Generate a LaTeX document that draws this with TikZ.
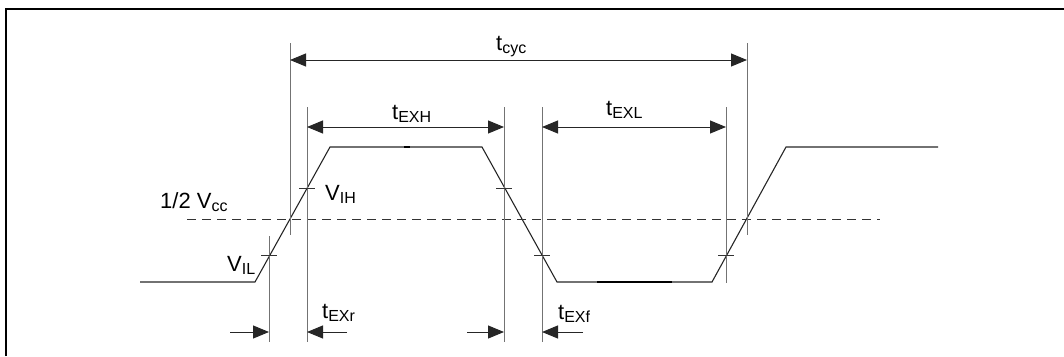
\documentclass[tikz,border=0pt]{standalone}
\usepackage{fontspec}
\setmainfont{Liberation Sans}
\usetikzlibrary{arrows.meta}
\newcommand\lsub[1]{\raisebox{-3.5pt}{\fontsize{16}{17}\selectfont #1}}
\begin{document}
\begin{tikzpicture}[x=1pt,y=-1pt,
  sig/.style={line width=1.1pt, draw=black!85},
  refline/.style={line width=0.9pt, draw=black!55},
  tick/.style={line width=0.9pt, draw=black!80},
  dimarrow/.style={line width=1pt, draw=black!85, {Triangle[length=16pt,width=13pt]}-{Triangle[length=16pt,width=13pt]}},
  onearrow/.style={line width=1pt, draw=black!85, -{Triangle[length=16pt,width=13pt]}},
  lbl/.style={inner sep=0pt, anchor=base west, font=\fontsize{22}{24}\selectfont},
  frame/.style={line width=2.2pt, draw=black}]
\useasboundingbox (0,0) rectangle (1064,356);
% frame (top and left edges)
\coordinate (fa) at (6,356);
\coordinate (fb) at (6,9);
\coordinate (fc) at (1064,9);
\draw[frame] (fa) -- (fb) -- (fc);
% signal
\coordinate (s0) at (140,282);
\coordinate (s1) at (255,282);
\coordinate (s2) at (330,147);
\coordinate (s3) at (482,147);
\coordinate (s4) at (557,282);
\coordinate (s5) at (712,282);
\coordinate (s6) at (786,147);
\coordinate (s7) at (938,147);
\draw[sig] (s0) -- (s1) -- (s2) -- (s3) -- (s4) -- (s5) -- (s6) -- (s7);
\coordinate (h1) at (597,282); \coordinate (h2) at (672,282);
\draw[line width=2.4pt] (h1) -- (h2);
\coordinate (h3) at (404,147); \coordinate (h4) at (410,147);
\draw[line width=2.4pt] (h3) -- (h4);
% dashed half-Vcc line
\coordinate (m0) at (187,219); \coordinate (m1) at (880,219);
\draw[line width=1pt, draw=black!80, dash pattern=on 9pt off 6pt] (m0) -- (m1);
% reference verticals
\coordinate (a1t) at (290,43);  \coordinate (a1b) at (290,235);
\coordinate (a2t) at (747,43);  \coordinate (a2b) at (747,235);
\coordinate (b1t) at (307,107); \coordinate (b1b) at (307,342);
\coordinate (b2t) at (504,107); \coordinate (b2b) at (504,342);
\coordinate (c1t) at (542,107); \coordinate (c1b) at (542,342);
\coordinate (c2t) at (726,107); \coordinate (c2b) at (726,283);
\coordinate (d1t) at (269,236); \coordinate (d1b) at (269,342);
\foreach \p in {a1,a2,b1,b2,c1,c2,d1} \draw[refline] (\p t) -- (\p b);
% ticks
\foreach \x/\y [count=\i] in {307/188,269/255,504/188,542/255,726/255}{
  \coordinate (k\i a) at (\x-8,\y); \coordinate (k\i b) at (\x+8,\y);
  \draw[tick] (k\i a) -- (k\i b);}
% dimension arrows
\coordinate (cyc1) at (290,60);  \coordinate (cyc2) at (747,60);
\draw[dimarrow] (cyc1) -- (cyc2);
\coordinate (exh1) at (307,127); \coordinate (exh2) at (504,127);
\draw[dimarrow] (exh1) -- (exh2);
\coordinate (exl1) at (542,127); \coordinate (exl2) at (726,127);
\draw[dimarrow] (exl1) -- (exl2);
% bottom arrows
\coordinate (r1a) at (230,332); \coordinate (r1b) at (269,332);
\coordinate (r2a) at (347,332); \coordinate (r2b) at (307,332);
\coordinate (f1a) at (467,332); \coordinate (f1b) at (504,332);
\coordinate (f2a) at (583,332); \coordinate (f2b) at (542,332);
\draw[onearrow] (r1a) -- (r1b);
\draw[onearrow] (r2a) -- (r2b);
\draw[onearrow] (f1a) -- (f1b);
\draw[onearrow] (f2a) -- (f2b);
% labels
\node[lbl] (ltcyc) at (496,50) {t\lsub{cyc}};
\node[lbl] (ltexh) at (392,119) {t\lsub{EXH}};
\node[lbl] (ltexl) at (606,115) {t\lsub{EXL}};
\node[lbl] (lvih) at (325,200) {V\lsub{IH}};
\node[lbl] (lvcc) at (160,208) {1/2 V\lsub{cc}};
\node[lbl] (lvil) at (227,271) {V\lsub{IL}};
\node[lbl] (ltexr) at (322,318) {t\lsub{EXr}};
\node[lbl] (ltexf) at (558,319) {t\lsub{EXf}};
\end{tikzpicture}
\end{document}
